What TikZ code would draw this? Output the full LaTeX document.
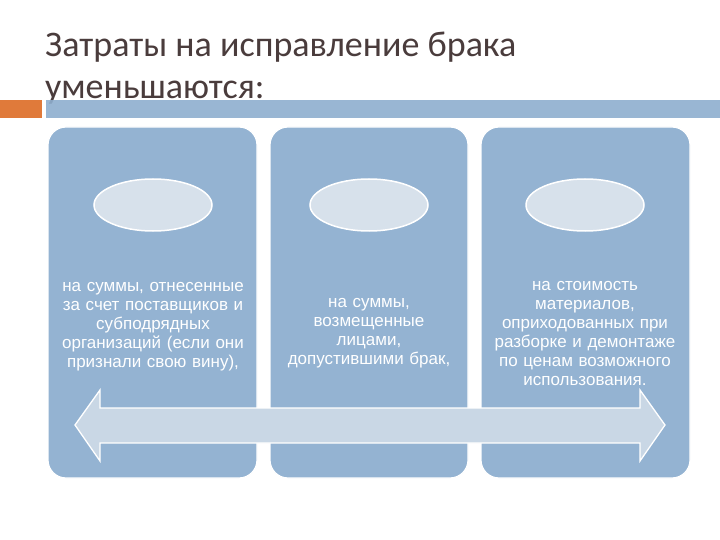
\documentclass[tikz,border=0pt]{standalone}
\usepackage{fontspec}
\setmainfont{Liberation Sans}
\newfontfamily\titlefont{Carlito}
\usetikzlibrary{shapes.geometric,shapes.arrows}
\definecolor{panelblue}{HTML}{94B3D2}
\definecolor{ellfill}{HTML}{D7E1EB}
\definecolor{arrfill}{HTML}{C9D7E5}
\definecolor{titlecol}{HTML}{4A3C3C}
\definecolor{orangebar}{HTML}{E07A3A}
\definecolor{bluebar}{HTML}{8FAFCF}
\tikzset{
  panel/.style={draw=white,line width=1.2pt,fill=panelblue,rounded corners=18pt},
  oval/.style={ellipse,draw=white,line width=1.5pt,fill=ellfill,minimum width=118pt,minimum height=52pt},
  ptext/.style={text=white,font=\fontsize{17}{19}\selectfont,align=center,text width=205pt}
}
\begin{document}
\begin{tikzpicture}[x=1pt,y=-1pt]
\useasboundingbox (0,0) rectangle (720,540);
\fill[white] (0,0) rectangle (720,540);
\node[anchor=base west,text=titlecol,font=\titlefont\fontsize{36}{40}\selectfont,inner sep=0] (t1) at (45,57) {Затраты на исправление брака};
\node[anchor=base west,text=titlecol,font=\titlefont\fontsize{36}{40}\selectfont,inner sep=0] (t2) at (45,99) {уменьшаются:};
\fill[orangebar] (0,100) rectangle (42,118);
\fill[bluebar,opacity=0.9] (46,100) rectangle (720,118);
\draw[panel] (48,127) rectangle (257,478);
\draw[panel] (270,127) rectangle (468,478);
\draw[panel] (481,127) rectangle (690,478);
\node[oval] (e1) at (153,205) {};
\node[oval] (e2) at (369,205) {};
\node[oval] (e3) at (585,205) {};
\node[ptext] (x1) at (153,327) {на суммы, отнесенные\\за счет поставщиков и\\субподрядных\\организаций (если они\\признали свою вину),};
\node[ptext] (x2) at (369,333) {на суммы,\\возмещенные\\лицами,\\допустившими брак,};
\node[ptext] (x3) at (585,334) {на стоимость\\материалов,\\оприходованных при\\разборке и демонтаже\\по ценам возможного\\использования.};
\draw[draw=white,line width=1.3pt,fill=arrfill]
  (75,425) -- (100,390) -- (100,408) -- (640,408) -- (640,390) -- (665,425)
  -- (640,461) -- (640,443) -- (100,443) -- (100,461) -- cycle;
\end{tikzpicture}
\end{document}
